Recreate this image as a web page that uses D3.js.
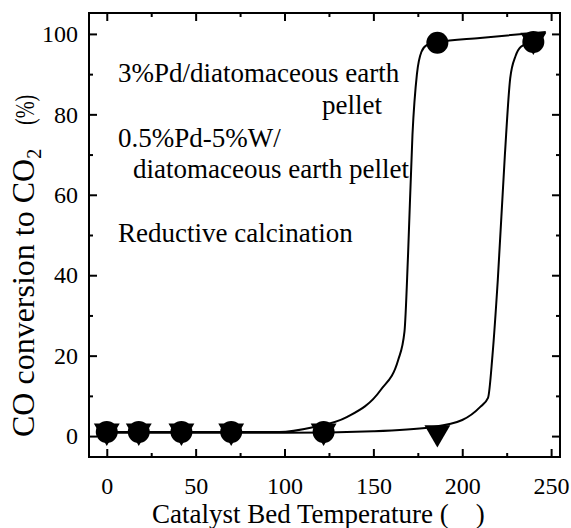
<!DOCTYPE html>
<html>
<head>
<meta charset="utf-8">
<script src="https://cdn.jsdelivr.net/npm/d3@7"></script>
<style>
  html, body { margin: 0; padding: 0; background: #fff; }
  text { font-family: 'Liberation Serif', 'Times New Roman', serif; }
</style>
</head>
<body>
<div id="chart"></div>
<script>
// measured points (temperature, conversion %)
const temps = [0, 18, 42, 70, 122, 186, 240];
const pdConv = [1, 1, 1, 1, 1, 97.8, 98];        // 3%Pd, circles
const pdwConv = [1, 1, 1, 1, 1, 0.6, 98.2];      // 0.5%Pd-5%W, triangles

// fitted curves
const pdFitT = [0, 50, 97, 116, 135, 154, 164, 167.5, 169.5, 172, 174.5, 177, 180, 186, 210, 247];
const pdFitY = [1, 1, 1, 2.2, 4.7, 11.4, 19, 26, 45, 75, 90, 95.5, 97.2, 97.9, 99, 100.5];
const pdwFitT = [0, 100, 150, 182, 200, 210, 214.5, 217, 220, 224, 227, 230, 233, 240, 246];
const pdwFitY = [0.8, 0.8, 1.2, 2.2, 4, 7.2, 9.5, 20, 38.8, 70, 89, 94.5, 96.8, 98.2, 100.3];

const xTicks = [0, 50, 100, 150, 200, 250];
const yTicks = [0, 20, 40, 60, 80, 100];
const xMinor = [25, 75, 125, 175, 225];
const yMinor = [10, 30, 50, 70, 90];

const labels = [
  { text: "3%Pd/diatomaceous earth", x: 118, y: 82, anchor: "start" },
  { text: "pellet", x: 382, y: 114, anchor: "end" },
  { text: "0.5%Pd-5%W/", x: 118, y: 147, anchor: "start" },
  { text: "diatomaceous earth pellet", x: 133, y: 178, anchor: "start" },
  { text: "Reductive calcination", x: 118, y: 242, anchor: "start" }
];

const W = 571, H = 528;
const m = { left: 89, right: 11, top: 13, bottom: 71 };
const serif = "'Liberation Serif', 'Times New Roman', serif";

const svg = d3.select("#chart").append("svg")
  .attr("width", W).attr("height", H)
  .attr("font-family", serif);

const x = d3.scaleLinear().domain([-10, 255]).range([m.left, W - m.right]);
const y = d3.scaleLinear().domain([-5.2, 105.2]).range([H - m.bottom, m.top]);

const ink = "#000";

// frame
svg.append("rect")
  .attr("x", m.left).attr("y", m.top)
  .attr("width", W - m.left - m.right).attr("height", H - m.top - m.bottom)
  .attr("fill", "none").attr("stroke", ink).attr("stroke-width", 2);

function styleAxis(g) {
  g.attr("font-family", serif).attr("font-size", 24);
  g.select(".domain").remove();
  g.selectAll(".tick line").attr("stroke", ink).attr("stroke-width", 2);
  g.selectAll(".tick text").attr("fill", ink);
}

// bottom axis with inward ticks
svg.append("g")
  .attr("transform", `translate(0,${H - m.bottom})`)
  .call(d3.axisBottom(x).tickValues(xTicks).tickSizeInner(-8).tickSizeOuter(0).tickPadding(20).tickFormat(d3.format("d")))
  .call(styleAxis);
svg.append("g")
  .attr("transform", `translate(0,${H - m.bottom})`)
  .call(d3.axisBottom(x).tickValues(xMinor).tickSize(-4).tickFormat(""))
  .call(styleAxis);
// top axis
svg.append("g")
  .attr("transform", `translate(0,${m.top})`)
  .call(d3.axisTop(x).tickValues(xTicks).tickSize(-8).tickFormat(""))
  .call(styleAxis);
svg.append("g")
  .attr("transform", `translate(0,${m.top})`)
  .call(d3.axisTop(x).tickValues(xMinor).tickSize(-4).tickFormat(""))
  .call(styleAxis);

// left axis
svg.append("g")
  .attr("transform", `translate(${m.left},0)`)
  .call(d3.axisLeft(y).tickValues(yTicks).tickSizeInner(-8).tickSizeOuter(0).tickPadding(11).tickFormat(d3.format("d")))
  .call(styleAxis);
svg.append("g")
  .attr("transform", `translate(${m.left},0)`)
  .call(d3.axisLeft(y).tickValues(yMinor).tickSize(-4).tickFormat(""))
  .call(styleAxis);
// right axis
svg.append("g")
  .attr("transform", `translate(${W - m.right},0)`)
  .call(d3.axisRight(y).tickValues(yTicks).tickSize(-8).tickFormat(""))
  .call(styleAxis);
svg.append("g")
  .attr("transform", `translate(${W - m.right},0)`)
  .call(d3.axisRight(y).tickValues(yMinor).tickSize(-4).tickFormat(""))
  .call(styleAxis);

// fitted curves
const line = d3.line()
  .x(d => x(d[0])).y(d => y(d[1]))
  .curve(d3.curveMonotoneX);

svg.append("path")
  .datum(d3.zip(pdFitT, pdFitY))
  .attr("d", line)
  .attr("fill", "none").attr("stroke", ink).attr("stroke-width", 2);
svg.append("path")
  .datum(d3.zip(pdwFitT, pdwFitY))
  .attr("d", line)
  .attr("fill", "none").attr("stroke", ink).attr("stroke-width", 2);

// circle markers
svg.append("g").selectAll("circle")
  .data(d3.zip(temps, pdConv))
  .join("circle")
  .attr("cx", d => x(d[0])).attr("cy", d => y(d[1]))
  .attr("r", 11).attr("fill", ink);

// down triangle markers
const tri = d3.symbol().type(d3.symbolTriangle).size(290);
svg.append("g").selectAll("path")
  .data(d3.zip(temps, pdwConv))
  .join("path")
  .attr("d", tri)
  .attr("transform", d => `translate(${x(d[0])},${y(d[1]) - 1}) rotate(180)`)
  .attr("fill", ink);

// annotations
svg.append("g").selectAll("text")
  .data(labels)
  .join("text")
  .attr("x", d => d.x).attr("y", d => d.y)
  .attr("text-anchor", d => d.anchor)
  .attr("font-size", 27)
  .attr("fill", ink)
  .text(d => d.text);

// x title (degree sign is missing in the original)
svg.append("text")
  .attr("x", 152).attr("y", 523)
  .attr("font-size", 27)
  .style("white-space", "pre")
  .text("Catalyst Bed Temperature (    )");

// y title
const yt = svg.append("text")
  .attr("transform", "translate(34,437) rotate(-90)")
  .attr("font-size", 32)
  .style("white-space", "pre");
yt.append("tspan").text("CO conversion to CO");
yt.append("tspan").attr("font-size", 20).attr("dy", 7).text("2");

svg.append("text")
  .attr("transform", "translate(34,125) rotate(-90) scale(0.75,1)")
  .attr("font-size", 27)
  .text("(%)");
</script>
</body>
</html>
